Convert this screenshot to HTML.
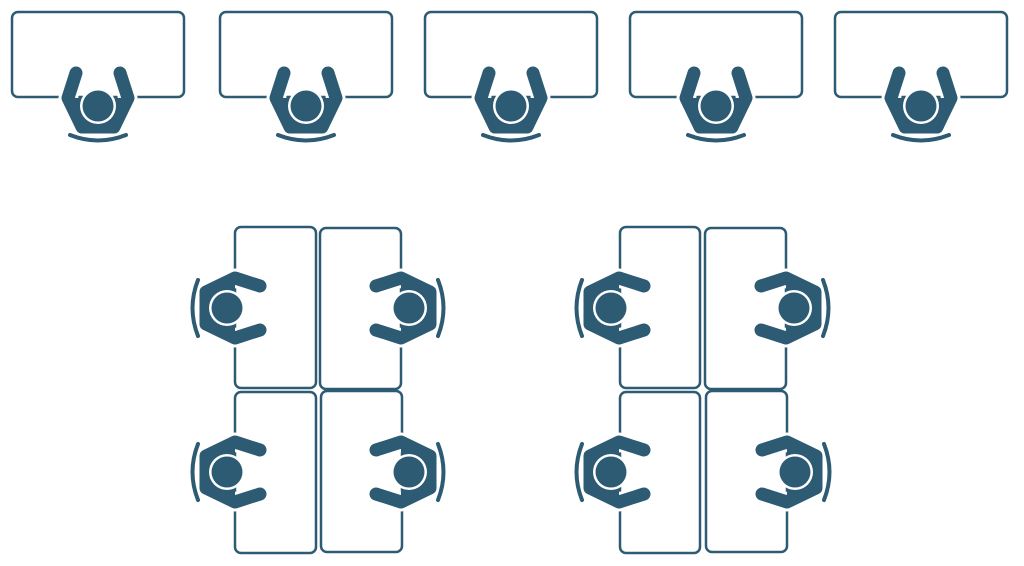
<!DOCTYPE html>
<html><head><style>html,body{margin:0;padding:0;background:#fff;width:1024px;height:566px;overflow:hidden}</style></head>
<body>
<svg width="1024" height="566" viewBox="0 0 1024 566" xmlns="http://www.w3.org/2000/svg">
<defs>
<g id="p">
<polyline points="-22,-33 -30,-8 -16,21 16,21 30,-8 22,-33" fill="none" stroke="#fff" stroke-width="19" stroke-linejoin="round" stroke-linecap="round"/>
<polyline points="-22,-33 -30,-8 -16,21 16,21 30,-8 22,-33" fill="none" stroke="#2d5b73" stroke-width="13" stroke-linejoin="round" stroke-linecap="round"/>
<path d="M-30,-8 L-16,21 L16,21 L30,-8 Z" fill="#2d5b73"/>
<circle cx="0" cy="0" r="18" fill="#fff"/>
<circle cx="0" cy="0" r="15.5" fill="#2d5b73"/>
<path d="M-28,29 Q0,40 28,29" fill="none" stroke="#2d5b73" stroke-width="4" stroke-linecap="round"/>
</g>
</defs>
<g fill="none" stroke="#2d5b73" stroke-width="2.5">
<rect x="12" y="12" width="172" height="85" rx="6"/>
<rect x="220" y="12" width="172" height="85" rx="6"/>
<rect x="425" y="12" width="172" height="85" rx="6"/>
<rect x="630" y="12" width="172" height="85" rx="6"/>
<rect x="835" y="12" width="172" height="85" rx="6"/>
<rect x="235" y="227" width="81" height="161" rx="6"/>
<rect x="320" y="228" width="81" height="161" rx="6"/>
<rect x="235" y="392" width="81" height="161" rx="6"/>
<rect x="321" y="391" width="81" height="161" rx="6"/>
<rect x="620" y="227" width="80" height="161" rx="6"/>
<rect x="705" y="228" width="81" height="161" rx="6"/>
<rect x="620" y="392" width="80" height="161" rx="6"/>
<rect x="706" y="391" width="81" height="161" rx="6"/>
</g>
<use href="#p" transform="translate(98,106)"/>
<use href="#p" transform="translate(306,106)"/>
<use href="#p" transform="translate(511,106)"/>
<use href="#p" transform="translate(716,106)"/>
<use href="#p" transform="translate(921,106)"/>
<use href="#p" transform="translate(227,308) rotate(90)"/>
<use href="#p" transform="translate(227,472) rotate(90)"/>
<use href="#p" transform="translate(409,308) rotate(-90)"/>
<use href="#p" transform="translate(409,472) rotate(-90)"/>
<use href="#p" transform="translate(611,308) rotate(90)"/>
<use href="#p" transform="translate(611,472) rotate(90)"/>
<use href="#p" transform="translate(794,308) rotate(-90)"/>
<use href="#p" transform="translate(795,472) rotate(-90)"/>
</svg>
</body></html>
